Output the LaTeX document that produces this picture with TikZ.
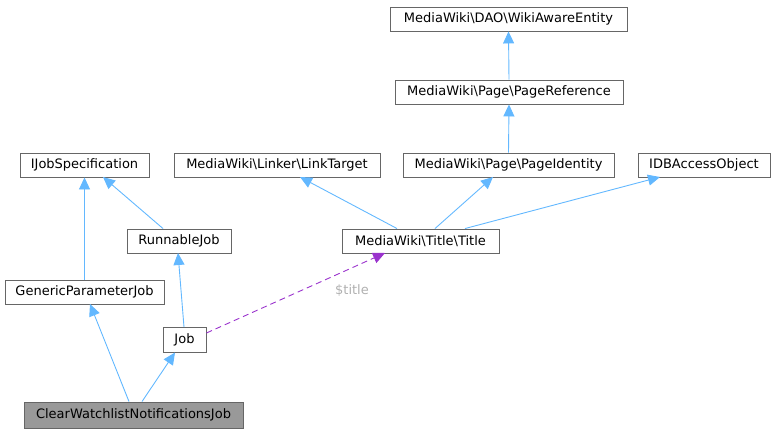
\documentclass[tikz,border=0pt]{standalone}
\usepackage{fontspec}
\setmainfont{DejaVu Sans}
\usetikzlibrary{arrows.meta}
\definecolor{edgeblue}{HTML}{63B8FF}
\definecolor{edgepurple}{HTML}{9A32CD}
\definecolor{boxgray}{HTML}{666666}
\definecolor{labgray}{HTML}{B0B0B0}
\tikzset{
  cls/.style={draw=boxgray, line width=0.9pt, fill=white, inner sep=0pt, minimum height=24pt, font=\fontsize{13}{15}\selectfont},
  curcls/.style={cls, fill=black!40},
  inh/.style={draw=edgeblue, line width=0.9pt, -{Triangle[length=12pt,width=11pt]}},
  usage/.style={draw=edgepurple, line width=0.9pt, dash pattern=on 6pt off 4pt, -{Triangle[length=12pt,width=11pt]}},
}
\begin{document}
\begin{tikzpicture}[x=1pt,y=-1pt]
\useasboundingbox (0,0) rectangle (776,433);
\node[cls, minimum width=237pt] (wae) at (508.5,19) {MediaWiki\textbackslash DAO\textbackslash WikiAwareEntity};
\node[cls, minimum width=228pt] (pref) at (509,92) {MediaWiki\textbackslash Page\textbackslash PageReference};
\node[cls, minimum width=129pt] (ijs) at (84.5,165) {IJobSpecification};
\node[cls, minimum width=206pt] (lt) at (277,165) {MediaWiki\textbackslash Linker\textbackslash LinkTarget};
\node[cls, minimum width=211pt] (pid) at (508.5,165) {MediaWiki\textbackslash Page\textbackslash PageIdentity};
\node[cls, minimum width=132pt] (idb) at (704,165) {IDBAccessObject};
\node[cls, minimum width=104pt] (rj) at (179,241) {RunnableJob};
\node[cls, minimum width=157pt] (title) at (420.5,241) {MediaWiki\textbackslash Title\textbackslash Title};
\node[cls, minimum width=159pt] (gpj) at (84.5,292) {GenericParameterJob};
\node[cls, minimum width=43pt, minimum height=25pt] (job) at (184.5,340) {Job};
\node[curcls, minimum width=219pt, minimum height=26pt] (cwn) at (133.5,415) {ClearWatchlistNotificationsJob};

\draw[inh] (pref.north) -- (wae.south);
\draw[inh] (pid.north) -- (pref.south);
\draw[inh] (gpj.north) -- (ijs.south);
\draw[inh] (rj.north -| 163,0) -- (103,177);
\draw[inh] (title.north -| 397,0) -- (300,177);
\draw[inh] (title.north -| 435,0) -- (493,177);
\draw[inh] (title.north -| 465,0) -- (660,177);
\draw[inh] (job.north -| 184,0) -- (178,253);
\draw[inh] (cwn.north -| 129,0) -- (90,304);
\draw[inh] (cwn.north -| 142,0) -- (175,352.5);
\draw[usage] (job.east |- 0,333) -- (385,253);
\node[text=labgray, font=\fontsize{13}{15}\selectfont] (lbl) at (352,291) {\$title};
\end{tikzpicture}
\end{document}
